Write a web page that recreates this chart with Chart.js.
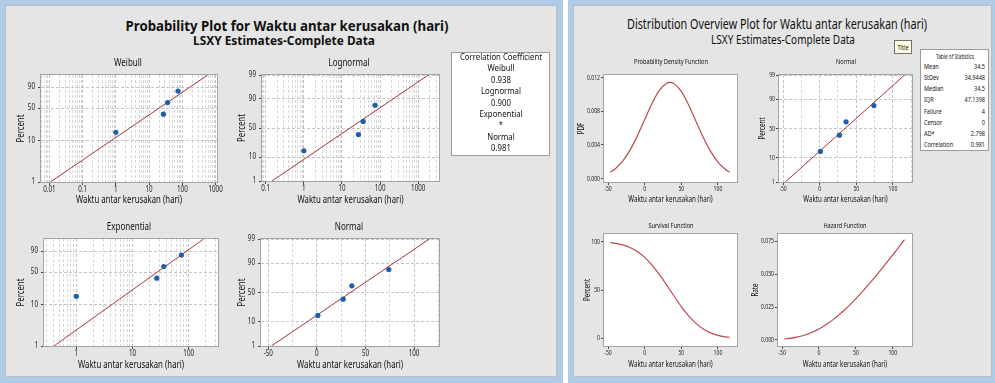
<!DOCTYPE html>
<html>
<head>
<meta charset="utf-8">
<script src="https://cdn.jsdelivr.net/npm/chart.js@4.4.1/dist/chart.umd.min.js"></script>
<style>
  html, body { margin: 0; padding: 0; background: #ffffff; }
  body { width: 995px; height: 383px; position: relative; overflow: hidden;
         font-family: 'Noto Sans', 'Open Sans', sans-serif; color: #111; }
  .win  { position: absolute; background: #aecbe7; }
  .pane { position: absolute; background: #e5e5e5; box-sizing: border-box; border: 1px solid #bdbdbd; }
  canvas { position: absolute; }
  .t { position: absolute; white-space: nowrap; line-height: 1; }
  .box { position: absolute; background: #ffffff; box-sizing: border-box; border: 1px solid #9c9c9c; }
</style>
</head>
<body>
<div class="win" style="left:0;top:0;width:563px;height:383px"></div>
<div class="pane" style="left:5px;top:5px;width:552px;height:372px"></div>
<div class="win" style="left:568px;top:0;width:427px;height:383px"></div>
<div class="pane" style="left:573px;top:5px;width:419px;height:372px"></div>

<script>
// ---------------- data ----------------
const failureTimes     = [1, 27, 36, 74];
const plottingPercents = [15.9, 38.6, 61.4, 84.1];

// fitted lines (LSXY), end points at 1 % and 99 %
const fitPercents         = [1, 99];
const weibullFitTimes     = [0.0107, 579];
const lognormalFitTimes   = [0.146, 1834];
const exponentialFitTimes = [0.40, 184];
const normalFitTimes      = [-46.8, 115.8];

// normal distribution overview curves
const curveTimes       = [-46.8, -40, -30, -20, -10, 0, 10, 20, 30, 34.5, 40, 50, 60, 70, 80, 90, 100, 110, 115.8];
const pdfValues        = [0.000763, 0.001176, 0.002078, 0.003383, 0.005075, 0.007013, 0.008929, 0.010475, 0.011322,
                          0.011416, 0.011276, 0.010347, 0.008748, 0.006814, 0.004891, 0.003234, 0.001971, 0.001106, 0.000763];
const survivalPercents = [99.0, 98.35, 96.75, 94.06, 89.86, 83.83, 75.84, 66.09, 55.12,
                          50.0, 43.75, 32.87, 23.28, 15.48, 9.65, 5.61, 3.04, 1.54, 1.0];
const hazardRates      = [0.000771, 0.001196, 0.002148, 0.003597, 0.005648, 0.008366, 0.011774, 0.015849, 0.020540,
                          0.022833, 0.025776, 0.031481, 0.037581, 0.044007, 0.05071, 0.05763, 0.06475, 0.07203, 0.0763];

// tick labels
const percentTicks         = [1, 10, 50, 90, 99];
const sevPercentTicks      = [1, 10, 50, 90];
const weibullTimeTicks     = [0.01, 0.1, 1, 10, 100, 1000];
const lognormalTimeTicks   = [0.1, 1, 10, 100, 1000];
const exponentialTimeTicks = [1, 10, 100];
const normalTimeTicks      = [-50, 0, 50, 100];
const normalGridTimes      = [-50, -25, 0, 25, 50, 75, 100, 125];
const pdfTicks             = [0, 0.004, 0.008, 0.012];
const survivalTicks        = [0, 50, 100];
const hazardTicks          = [0, 0.025, 0.05, 0.075];

// text tables
const correlationLines = ['Correlation Coefficient', 'Weibull', '0.938', 'Lognormal', '0.900', 'Exponential', '*', 'Normal', '0.981'];
const statNames  = ['Mean', 'StDev', 'Median', 'IQR', 'Failure', 'Censor', 'AD*', 'Correlation'];
const statValues = ['34.5', '34.9448', '34.5', '47.1398', '4', '0', '2.798', '0.981'];

// ---------------- helpers ----------------
const SANS = "'Noto Sans', 'Open Sans', sans-serif";
const FIT_RED = '#a8343a';
const CURVE_RED = '#bb4a4e';
const DOT_BLUE = '#1d5fae';

function zip(xs, ys) { return xs.map((x, i) => ({ x: x, y: ys[i] })); }

// inverse standard normal CDF (Acklam)
function normInv(p) {
  const a = [-3.969683028665376e+01, 2.209460984245205e+02, -2.759285104469687e+02, 1.383577518672690e+02, -3.066479806614716e+01, 2.506628277459239e+00];
  const b = [-5.447609879822406e+01, 1.615858368580409e+02, -1.556989798598866e+02, 6.680131188771972e+01, -1.328068155288572e+01];
  const c = [-7.784894002430293e-03, -3.223964580411365e-01, -2.400758277161838e+00, -2.549732539343734e+00, 4.374664141464968e+00, 2.938163982698783e+00];
  const d = [7.784695709041462e-03, 3.224671290700398e-01, 2.445134137142996e+00, 3.754408661907416e+00];
  const pl = 0.02425;
  let q, r;
  if (p < pl) {
    q = Math.sqrt(-2 * Math.log(p));
    return (((((c[0]*q+c[1])*q+c[2])*q+c[3])*q+c[4])*q+c[5]) / ((((d[0]*q+d[1])*q+d[2])*q+d[3])*q+1);
  }
  if (p <= 1 - pl) {
    q = p - 0.5; r = q * q;
    return (((((a[0]*r+a[1])*r+a[2])*r+a[3])*r+a[4])*r+a[5])*q / (((((b[0]*r+b[1])*r+b[2])*r+b[3])*r+b[4])*r+1);
  }
  q = Math.sqrt(-2 * Math.log(1 - p));
  return -(((((c[0]*q+c[1])*q+c[2])*q+c[3])*q+c[4])*q+c[5]) / ((((d[0]*q+d[1])*q+d[2])*q+d[3])*q+1);
}

// probability-paper axis: percent values placed on a transformed scale
const probabilityTransforms = {
  sev:    p => Math.log(-Math.log(1 - p / 100)),   // Weibull / exponential paper
  normal: p => normInv(p / 100)                     // normal / lognormal paper
};
class ProbabilityScale extends Chart.LinearScale {
  static id = 'probability';
  static defaults = {};
  configure() {
    super.configure();
    const f = probabilityTransforms[this.options.transform];
    this._tLow = f(this.min);
    this._tHigh = f(this.max);
  }
  getPixelForValue(value) {
    const f = probabilityTransforms[this.options.transform];
    return this.getPixelForDecimal((f(value) - this._tLow) / (this._tHigh - this._tLow));
  }
}
Chart.register(ProbabilityScale);

// horizontally condensed canvas text
const condensedText = {
  id: 'condensedText',
  beforeInit(chart, args, opts) {
    const ctx = chart.ctx;
    const k = opts.factor || 1;
    const fill = ctx.fillText;
    ctx.fillText = function (text, x, y, maxWidth) {
      const w = this.measureText(text).width * k;
      return fill.call(this, text, x, y, maxWidth === undefined ? w : Math.min(w, maxWidth));
    };
  }
};

// white plot region with a grey frame
const plotFrame = {
  id: 'plotFrame',
  beforeDraw(chart) {
    const { ctx, chartArea: a } = chart;
    ctx.save();
    ctx.fillStyle = '#ffffff';
    ctx.fillRect(a.left, a.top, a.width, a.height);
    ctx.restore();
  },
  afterDraw(chart) {
    const { ctx, chartArea: a } = chart;
    ctx.save();
    ctx.strokeStyle = '#a3a3a3';
    ctx.lineWidth = 1;
    ctx.strokeRect(Math.round(a.left) - 0.5, Math.round(a.top) - 0.5, Math.round(a.width) + 1, Math.round(a.height) + 1);
    ctx.restore();
  }
};

function logGrid(min, max) {
  const out = [];
  for (let d = Math.floor(Math.log10(min)); d <= Math.ceil(Math.log10(max)); d++) {
    for (let m = 1; m <= 9; m++) {
      const v = +(m * Math.pow(10, d)).toPrecision(6);
      if (v >= min && v <= max) out.push(v);
    }
  }
  return out;
}

function axis(a, fonts, which) {
  const isLab = v => a.labels.some(l => Math.abs(l - v) <= 1e-9 * Math.max(1, Math.abs(l)));
  return {
    type: a.type, min: a.min, max: a.max, bounds: 'data', transform: a.transform,
    afterBuildTicks: s => { s.ticks = a.grid.map(v => ({ value: v })); },
    ticks: {
      autoSkip: false, maxRotation: 0, minRotation: 0,
      padding: which === 'x' ? 0 : fonts.yPad,
      color: '#222', font: { family: SANS, size: fonts.tick },
      callback: v => isLab(v) ? a.format(v) : ''
    },
    grid: {
      display: true, drawOnChartArea: !!a.showGrid, drawTicks: true, tickLength: fonts.tickLen, lineWidth: 1,
      color: c => (c.tick && isLab(c.tick.value)) ? '#c4c4c4' : '#d8d8d8',
      tickColor: c => (c.tick && isLab(c.tick.value)) ? '#444444' : 'rgba(0,0,0,0)'
    },
    border: { display: false, dash: [3, 2] },
    title: {
      display: true, text: a.title, color: '#111',
      font: { family: SANS, size: fonts.title },
      padding: which === 'x' ? { top: 0, bottom: 2 } : { top: 2, bottom: 0 }
    }
  };
}

function mountChart(spec) {
  const [L, T, R, B] = spec.plot;
  const padT = 8, padR = 14;
  const yLine = spec.fonts.title * 1.2, xLine = spec.fonts.title * 1.2;
  const left = Math.round(spec.yTitleX - yLine / 2 - 2);
  const bottom = Math.round(spec.xTitleY + xLine / 2 + 2);
  const top = T - padT;
  const canvas = document.createElement('canvas');
  canvas.width = R - left + padR;
  canvas.height = bottom - top;
  canvas.style.left = left + 'px';
  canvas.style.top = top + 'px';
  document.body.appendChild(canvas);
  const x = axis(spec.x, spec.fonts, 'x');
  const y = axis(spec.y, spec.fonts, 'y');
  x.afterFit = s => { s.height = bottom - B; };
  y.afterFit = s => { s.width = L - left; };
  return new Chart(canvas, {
    type: 'scatter',
    data: { datasets: spec.datasets },
    options: {
      responsive: false, animation: false, devicePixelRatio: 1, events: [],
      layout: { padding: { top: padT, right: padR, bottom: 0, left: 0 } },
      scales: { x: x, y: y },
      plugins: {
        legend: { display: false }, tooltip: { enabled: false },
        condensedText: { factor: spec.fonts.k }
      }
    },
    plugins: [condensedText, plotFrame]
  });
}

function addText(str, x, y, o) {
  const el = document.createElement('div');
  el.className = 't';
  el.textContent = str;
  el.style.fontSize = o.size + 'px';
  el.style.fontWeight = o.bold ? '700' : '400';
  el.style.left = x + 'px';
  el.style.top = y + 'px';
  if (o.color) el.style.color = o.color;
  document.body.appendChild(el);
  const natural = el.getBoundingClientRect().width;
  const k = o.width ? o.width / natural : (o.k || 1);
  const align = o.align || 'center';
  el.style.transformOrigin = align === 'left' ? '0 50%' : align === 'right' ? '100% 50%' : '50% 50%';
  const tx = align === 'left' ? '0' : align === 'right' ? '-100%' : '-50%';
  el.style.transform = 'translate(' + tx + ',-50%) scaleX(' + k + ')';
  return el;
}

function addBox(l, t, w, h, bg, border) {
  const el = document.createElement('div');
  el.className = 'box';
  el.style.left = l + 'px'; el.style.top = t + 'px';
  el.style.width = w + 'px'; el.style.height = h + 'px';
  if (bg) el.style.background = bg;
  if (border) el.style.borderColor = border;
  document.body.appendChild(el);
  return el;
}

function probDatasets(fitTimes) {
  return [
    { data: zip(failureTimes, plottingPercents), showLine: false, pointRadius: 2.6,
      pointBackgroundColor: DOT_BLUE, pointBorderColor: DOT_BLUE, pointBorderWidth: 0 },
    { data: zip(fitTimes, fitPercents), showLine: true, borderColor: FIT_RED, borderWidth: 1, pointRadius: 0 }
  ];
}
function curveDataset(values) {
  return [{ data: zip(curveTimes, values), showLine: true, borderColor: CURVE_RED, borderWidth: 1.2,
            pointRadius: 0, cubicInterpolationMode: 'monotone' }];
}

const str = v => String(v);
const fix3 = v => v.toFixed(3);
const XTITLE = 'Waktu antar kerusakan (hari)';
const leftFonts  = { tick: 8, title: 10, k: 0.78, tickLen: 3, yPad: 3 };
const rightFonts = { tick: 7, title: 8.5, k: 0.73, tickLen: 3, yPad: 1 };

// ---------------- probability plots ----------------
mountChart({
  plot: [41, 75, 217, 182], yTitleX: 21, xTitleY: 200, fonts: leftFonts,
  x: { type: 'logarithmic', min: 0.0056, max: 1100, grid: logGrid(0.0056, 1100), labels: weibullTimeTicks, format: str, showGrid: true, title: XTITLE },
  y: { type: 'probability', transform: 'sev', min: 1, max: 99, grid: sevPercentTicks, labels: sevPercentTicks, format: str, showGrid: true, title: 'Percent' },
  datasets: probDatasets(weibullFitTimes)
});
mountChart({
  plot: [262, 75, 439, 181], yTitleX: 242, xTitleY: 200, fonts: leftFonts,
  x: { type: 'logarithmic', min: 0.08, max: 3500, grid: logGrid(0.08, 3500), labels: lognormalTimeTicks, format: str, showGrid: true, title: XTITLE },
  y: { type: 'probability', transform: 'normal', min: 1, max: 99, grid: percentTicks, labels: percentTicks, format: str, showGrid: true, title: 'Percent' },
  datasets: probDatasets(lognormalFitTimes)
});
mountChart({
  plot: [44, 239, 218, 346], yTitleX: 21, xTitleY: 365, fonts: leftFonts,
  x: { type: 'logarithmic', min: 0.266, max: 332, grid: logGrid(0.266, 332), labels: exponentialTimeTicks, format: str, showGrid: true, title: XTITLE },
  y: { type: 'probability', transform: 'sev', min: 1, max: 99, grid: sevPercentTicks, labels: sevPercentTicks, format: str, showGrid: true, title: 'Percent' },
  datasets: probDatasets(exponentialFitTimes)
});
mountChart({
  plot: [261, 239, 439, 346], yTitleX: 242, xTitleY: 365, fonts: leftFonts,
  x: { type: 'linear', min: -57.5, max: 125.7, grid: normalGridTimes, labels: normalTimeTicks, format: str, showGrid: true, title: XTITLE },
  y: { type: 'probability', transform: 'normal', min: 1, max: 99, grid: percentTicks, labels: percentTicks, format: str, showGrid: true, title: 'Percent' },
  datasets: probDatasets(normalFitTimes)
});

// ---------------- distribution overview ----------------
mountChart({
  plot: [604, 75, 737, 182], yTitleX: 581, xTitleY: 200, fonts: rightFonts,
  x: { type: 'linear', min: -55.5, max: 126, grid: normalTimeTicks, labels: normalTimeTicks, format: str, showGrid: false, title: XTITLE },
  y: { type: 'linear', min: -0.0004, max: 0.0123, grid: pdfTicks, labels: pdfTicks, format: fix3, showGrid: false, title: 'PDF' },
  datasets: curveDataset(pdfValues)
});
mountChart({
  plot: [779, 75, 912, 182], yTitleX: 762, xTitleY: 199.5, fonts: rightFonts,
  x: { type: 'linear', min: -55.5, max: 126, grid: normalGridTimes, labels: normalTimeTicks, format: str, showGrid: true, title: XTITLE },
  y: { type: 'probability', transform: 'normal', min: 1, max: 99, grid: percentTicks, labels: percentTicks, format: str, showGrid: true, title: 'Percent' },
  datasets: probDatasets(normalFitTimes)
});
mountChart({
  plot: [604, 234, 737, 346], yTitleX: 587, xTitleY: 365, fonts: rightFonts,
  x: { type: 'linear', min: -55.5, max: 126, grid: normalTimeTicks, labels: normalTimeTicks, format: str, showGrid: false, title: XTITLE },
  y: { type: 'linear', min: -8, max: 108, grid: survivalTicks, labels: survivalTicks, format: str, showGrid: false, title: 'Percent' },
  datasets: curveDataset(survivalPercents)
});
mountChart({
  plot: [778, 234, 912, 346], yTitleX: 755, xTitleY: 365, fonts: rightFonts,
  x: { type: 'linear', min: -55.5, max: 126, grid: normalTimeTicks, labels: normalTimeTicks, format: str, showGrid: false, title: XTITLE },
  y: { type: 'linear', min: -0.0046, max: 0.0806, grid: hazardTicks, labels: hazardTicks, format: fix3, showGrid: false, title: 'Rate' },
  datasets: curveDataset(hazardRates)
});

// ---------------- titles and panels ----------------
addText('Probability Plot for Waktu antar kerusakan (hari)', 286.5, 24.5, { size: 15, bold: true, width: 323 });
addText('LSXY Estimates-Complete Data', 284, 40, { size: 13, bold: true, width: 182 });
addText('Weibull', 128, 62, { size: 10, k: 0.8 });
addText('Lognormal', 349, 62, { size: 10, k: 0.8 });
addText('Exponential', 128.5, 226, { size: 10, k: 0.8 });
addText('Normal', 349, 226, { size: 10, k: 0.8 });

addBox(451, 52, 99, 104);
correlationLines.forEach((s, i) => addText(s, 500.5, 57 + i * 11.4, { size: 9.5, k: 0.82 }));

addText('Distribution Overview Plot for Waktu antar kerusakan (hari)', 777, 25, { size: 13.5, width: 300 });
addText('LSXY Estimates-Complete Data', 783, 38.5, { size: 13, width: 144 });
addText('Probability Density Function', 670.5, 62, { size: 7.5, k: 0.75 });
addText('Normal', 845.5, 62, { size: 7.5, k: 0.75 });
addText('Survival Function', 670.5, 226, { size: 7.5, k: 0.75 });
addText('Hazard Function', 845, 226, { size: 7.5, k: 0.75 });

addBox(894, 40, 18, 14, '#ffffe1', '#707070');
addText('Title', 903, 47, { size: 7, k: 0.8 });

addBox(920, 49, 69, 102);
addText('Table of Statistics', 955, 57, { size: 6.5, width: 38 });
statNames.forEach((s, i) => addText(s, 924, 66.7 + i * 11.2, { size: 6.5, k: 0.85, align: 'left' }));
statValues.forEach((s, i) => addText(s, 985, 66.7 + i * 11.2, { size: 6.5, k: 0.85, align: 'right' }));
</script>
</body>
</html>
